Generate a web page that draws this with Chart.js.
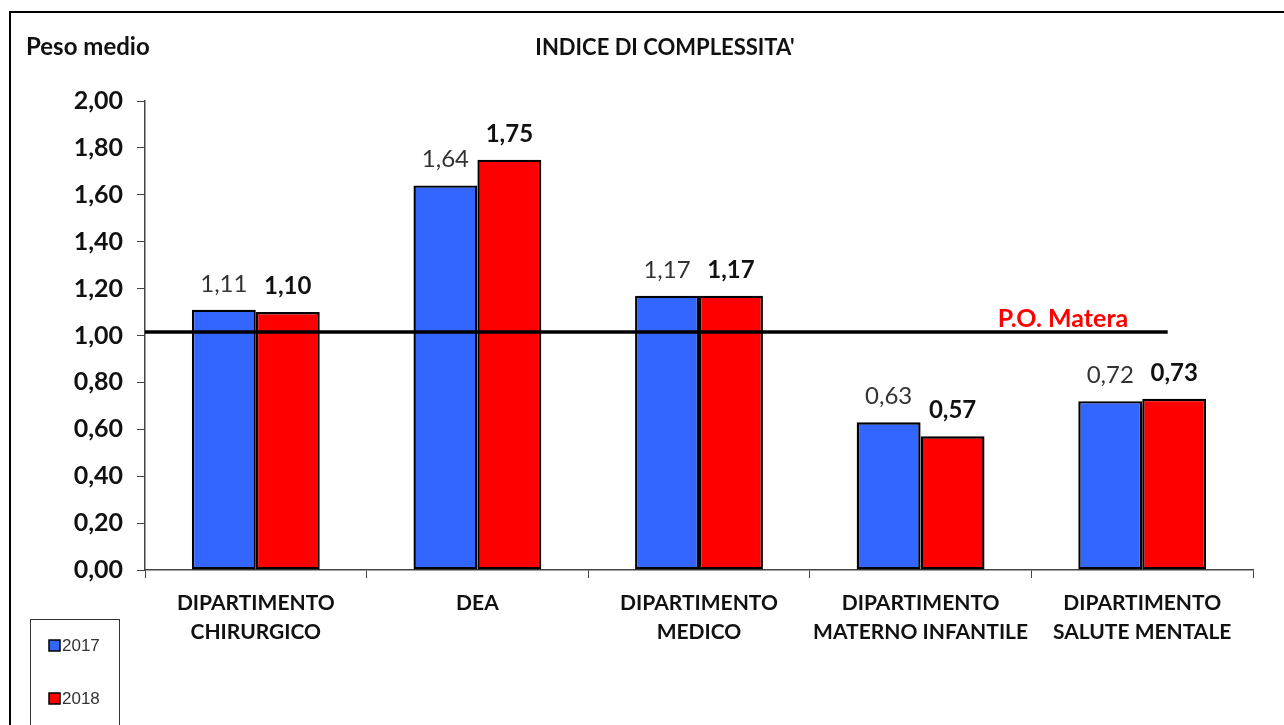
<!DOCTYPE html>
<html>
<head>
<meta charset="utf-8">
<style>
html,body{margin:0;padding:0;background:#fff;}
#wrap{width:1284px;height:725px;position:relative;}
</style>
<script src="https://cdn.jsdelivr.net/npm/chart.js@4/dist/chart.umd.min.js"></script>
</head>
<body>
<div id="wrap"><canvas id="c" width="1284" height="725"></canvas></div>
<script>
const categories = [
  ["DIPARTIMENTO","CHIRURGICO"],
  ["DEA"],
  ["DIPARTIMENTO","MEDICO"],
  ["DIPARTIMENTO","MATERNO INFANTILE"],
  ["DIPARTIMENTO","SALUTE MENTALE"]
];
const seriesNames = ["2017","2018"];
const values2017 = [1.11, 1.64, 1.17, 0.63, 0.72];
const values2018 = [1.10, 1.75, 1.17, 0.57, 0.73];
const referenceValue = 1.015;
const referenceLabel = "P.O. Matera";
const chartTitle = "INDICE DI COMPLESSITA'";
const yAxisTitle = "Peso medio";
const yTicks = [0,0.2,0.4,0.6,0.8,1.0,1.2,1.4,1.6,1.8,2.0];

const FONT = "Lato, 'Open Sans', sans-serif";
const fmt = v => v.toFixed(2).replace('.', ',');

const decor = {
  id: 'decor',
  beforeDraw(chart) {
    const ctx = chart.ctx;
    ctx.save();
    ctx.fillStyle = '#fff';
    ctx.fillRect(0,0,chart.width,chart.height);
    ctx.strokeStyle = '#000';
    ctx.lineWidth = 2;
    ctx.strokeRect(10, 12, chart.width + 20, chart.height + 20);
    ctx.restore();
  },
  afterDatasetsDraw(chart) {
    const ctx = chart.ctx;
    const ys = chart.scales.y;
    const ca = chart.chartArea;
    ctx.save();
    ctx.fillStyle = '#111';
    ctx.textBaseline = 'middle';
    ctx.textAlign = 'left';
    ctx.font = "bold 24px " + FONT;
    ctx.fillText(yAxisTitle, 26, 47);
    ctx.font = "bold 22px " + FONT;
    ctx.textAlign = 'center';
    ctx.fillText(chartTitle, 665, 48);

    // data labels
    chart.data.datasets.forEach((ds, di) => {
      const meta = chart.getDatasetMeta(di);
      meta.data.forEach((bar, i) => {
        ctx.font = (di === 1 ? "bold " : "") + "24px " + FONT;
        ctx.fillStyle = di === 1 ? '#111' : '#333';
        ctx.textAlign = 'center';
        ctx.textBaseline = 'alphabetic';
        ctx.fillText(fmt(ds.data[i]), bar.x, bar.y - 18);
      });
    });

    // reference line
    const yRef = ys.getPixelForValue(referenceValue);
    const xEnd = ca.left + (ca.right - ca.left) * 0.923;
    ctx.strokeStyle = '#000';
    ctx.lineWidth = 3.3;
    ctx.beginPath();
    ctx.moveTo(ca.left, yRef);
    ctx.lineTo(xEnd, yRef);
    ctx.stroke();
    ctx.fillStyle = '#ff0000';
    ctx.font = "bold 25px " + FONT;
    ctx.textAlign = 'center';
    ctx.textBaseline = 'alphabetic';
    ctx.fillText(referenceLabel, 1063, yRef - 5);

    // legend
    ctx.strokeStyle = '#333';
    ctx.lineWidth = 1;
    ctx.strokeRect(30.5, 619.5, 89, 120);
    chart.data.datasets.forEach((ds, di) => {
      const cy = 645 + di * 53;
      ctx.fillStyle = ds.backgroundColor;
      ctx.fillRect(49, cy - 5, 11, 11);
      ctx.strokeStyle = '#000';
      ctx.lineWidth = 1.5;
      ctx.strokeRect(49, cy - 5, 11, 11);
      ctx.fillStyle = '#333';
      ctx.font = "17px 'Liberation Sans', Arial, sans-serif";
      ctx.textAlign = 'left';
      ctx.textBaseline = 'middle';
      ctx.fillText(ds.label, 62, cy + 1);
    });
    ctx.restore();
  }
};

new Chart(document.getElementById('c'), {
  type: 'bar',
  data: {
    labels: categories,
    datasets: [
      { label: seriesNames[0], data: values2017, backgroundColor: '#3366ff', borderColor: '#000', borderWidth: 2.4, borderSkipped: false },
      { label: seriesNames[1], data: values2018, backgroundColor: '#ff0000', borderColor: '#000', borderWidth: 2.4, borderSkipped: false }
    ]
  },
  options: {
    responsive: false,
    animation: false,
    events: [],
    layout: { padding: { left: 0, top: 101, right: 31, bottom: 0 } },
    plugins: { legend: { display: false }, title: { display: false }, tooltip: { enabled: false } },
    datasets: { bar: { categoryPercentage: 0.577, barPercentage: 1.0 } },
    scales: {
      x: {
        afterFit(s) { s.height = 155; },
        grid: { display: true, drawOnChartArea: false, drawTicks: true, tickLength: 8, color: '#444', offset: true },
        border: { display: true, color: '#444', width: 1.5 },
        ticks: { color: '#111', font: { family: FONT, size: 21, weight: 'bold', lineHeight: 1.38 }, padding: 11, maxRotation: 0, autoSkip: false }
      },
      y: {
        min: 0, max: 2,
        afterFit(s) { s.width = 145; },
        afterBuildTicks(s) { s.ticks = yTicks.map(v => ({ value: v })); },
        grid: { display: true, drawOnChartArea: false, drawTicks: true, tickLength: 8, color: '#444' },
        border: { display: true, color: '#444', width: 1.5 },
        ticks: { color: '#111', font: { family: FONT, size: 25, weight: 'bold' }, padding: 14, callback: v => fmt(v) }
      }
    }
  },
  plugins: [decor]
});
</script>
</body>
</html>
